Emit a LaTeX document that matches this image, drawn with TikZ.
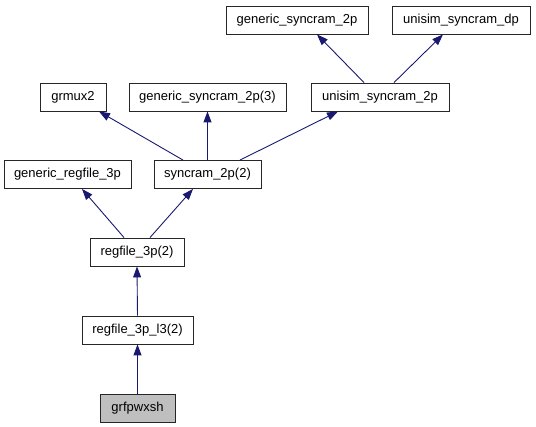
\documentclass[tikz,border=0pt]{standalone}
\usepackage{fontspec}
\setmainfont{Liberation Sans}
\usetikzlibrary{arrows.meta}
\definecolor{edgeblue}{HTML}{191970}
\begin{document}
\begin{tikzpicture}[x=1pt,y=-1pt,
  box/.style={draw=black!85, line width=0.9pt, rectangle, inner sep=0pt, minimum height=28pt,
    font=\fontsize{13}{15}\selectfont, anchor=center},
  cur/.style={box, fill=black!25},
  edge/.style={draw=edgeblue, line width=0.9pt, -{Triangle[length=11pt,width=8pt,fill=edgeblue]}}]
\useasboundingbox (0,0) rectangle (536,427);
\node[box, minimum width=142pt] (gsyn) at (297,20) {generic\_syncram\_2p};
\node[box, minimum width=138pt] (usyndp) at (461,20) {unisim\_syncram\_dp};
\node[box, minimum width=66pt] (grmux) at (73,97) {grmux2};
\node[box, minimum width=157pt] (gsyn3) at (207.5,97) {generic\_syncram\_2p(3)};
\node[box, minimum width=138pt] (usyn2p) at (380,97) {unisim\_syncram\_2p};
\node[box, minimum width=127pt] (grf3p) at (67.5,174.5) {generic\_regfile\_3p};
\node[box, minimum width=107pt] (syn2p2) at (207.5,174.5) {syncram\_2p(2)};
\node[box, minimum width=94pt] (rf3p2) at (137,252) {regfile\_3p(2)};
\node[box, minimum width=111pt] (rfl3) at (137.5,330) {regfile\_3p\_l3(2)};
\node[cur, minimum width=75pt] (grf) at (137.5,408) {grfpwxsh};
\draw[edge] ([xshift=-16pt]usyn2p.north) -- ([xshift=20pt]gsyn.south);
\draw[edge] ([xshift=14pt]usyn2p.north) -- ([xshift=-18pt]usyndp.south);
\draw[edge] ([xshift=-24.5pt]syn2p2.north) -- ([xshift=26pt]grmux.south);
\draw[edge] (syn2p2.north) -- (gsyn3.south);
\draw[edge] ([xshift=32.5pt]syn2p2.north) -- ([xshift=-42pt]usyn2p.south);
\draw[edge] ([xshift=-13pt]rf3p2.north) -- ([xshift=14.5pt]grf3p.south);
\draw[edge] ([xshift=13pt]rf3p2.north) -- ([xshift=-14.5pt]syn2p2.south);
\draw[edge] (rfl3.north) -- (rf3p2.south);
\draw[edge] (grf.north) -- (rfl3.south);
\end{tikzpicture}
\end{document}
